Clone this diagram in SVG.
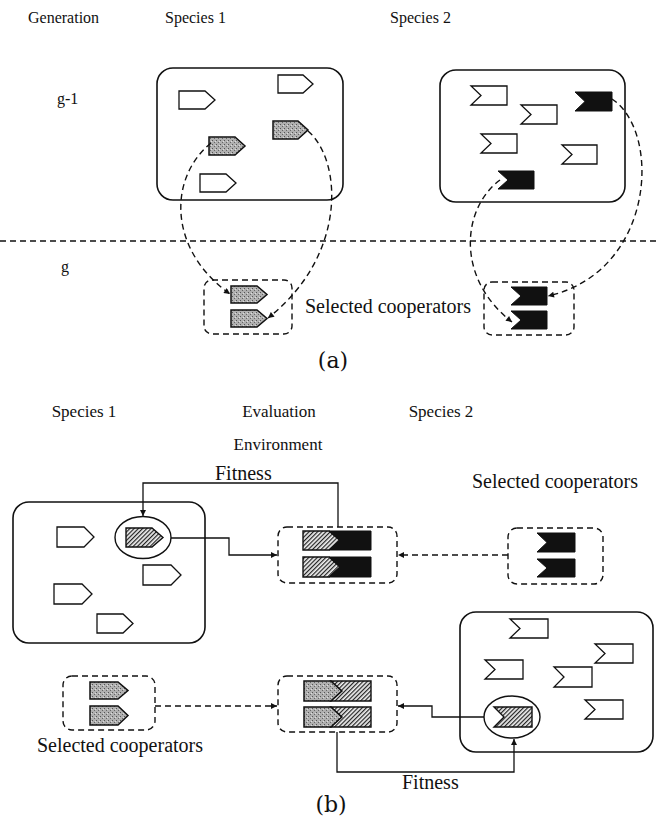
<svg xmlns="http://www.w3.org/2000/svg" width="656" height="825" viewBox="0 0 656 825">
<style>
text{font-family:"Liberation Serif","Times New Roman",serif;fill:#111}
.lbl{font-size:16px}
.hd{font-size:17px}
.big{font-size:20px}
.cap{font-size:22px;font-family:"DejaVu Serif","Liberation Serif",serif}
.box{fill:#fff;stroke:#111;stroke-width:1.6}
.dbox{fill:#fff;stroke:#111;stroke-width:1.4;stroke-dasharray:6 4}
.w{fill:#fff;stroke:#111;stroke-width:1.3}
.g{fill:url(#stip);stroke:#111;stroke-width:1.5}
.h{fill:url(#hatch);stroke:#111;stroke-width:1.4}
.k{fill:#111;stroke:#111;stroke-width:1}
.dash{fill:none;stroke:#111;stroke-width:1.4;stroke-dasharray:6 4}
.sol{fill:none;stroke:#111;stroke-width:1.3}
</style>
<defs>
<pattern id="stip" patternUnits="userSpaceOnUse" width="4" height="4">
<rect width="4" height="4" fill="#b0b0b0"/>
<rect x="0" y="0" width="1" height="1" fill="#555"/>
<rect x="2" y="2" width="1" height="1" fill="#666"/>
<rect x="3" y="1" width="1" height="1" fill="#ddd"/>
</pattern>
<pattern id="hatch" patternUnits="userSpaceOnUse" width="3" height="3" patternTransform="rotate(45)">
<rect width="3" height="3" fill="#eee"/>
<line x1="0.6" y1="0" x2="0.6" y2="3" stroke="#222" stroke-width="1.2"/>
</pattern>
<marker id="ah" viewBox="0 0 10 10" refX="10" refY="5" markerWidth="7" markerHeight="6" markerUnits="userSpaceOnUse" orient="auto">
<path d="M0,0 L10,5 L0,10 Z" fill="#111"/>
</marker>
</defs>

<!-- Part (a) labels -->
<g id="labels-a">
<text class="lbl" x="28" y="23">Generation</text>
<text class="lbl" x="165" y="23">Species 1</text>
<text class="lbl" x="390" y="23">Species 2</text>
<text class="lbl" x="57" y="104">g-1</text>
<text class="lbl" x="61" y="272">g</text>
<text class="big" x="305" y="313">Selected cooperators</text>
<text class="cap" x="333" y="368" text-anchor="middle">(a)</text>
</g>

<g id="a-species1">
<rect class="box" x="157" y="68" width="186" height="132" rx="16"/>
<polygon class="w" points="179,91 205,91 215,100 205,109 179,109"/>
<polygon class="w" points="278,75 303,75 313,84 303,93 278,93"/>
<polygon class="g" points="209,137 235,137 245,146 235,155 209,155"/>
<polygon class="g" points="273,121 298,121 308,130 298,139 273,139"/>
<polygon class="w" points="200,174 226,174 236,183 226,192 200,192"/>
</g>

<g id="a-species2">
<rect class="box" x="440" y="70" width="185" height="132" rx="16"/>
<polygon class="w" points="471,86 507,86 507,105 471,105 481,95.5"/>
<polygon class="w" points="521,105 557,105 557,124 521,124 531,114.5"/>
<polygon class="k" points="575,92 612,92 612,111 575,111 585,101.5"/>
<polygon class="w" points="481,134 517,134 517,153 481,153 491,143.5"/>
<polygon class="w" points="562,145 597,145 597,164 562,164 572,154.5"/>
<polygon class="k" points="498,171 534,171 534,189 498,189 508,180"/>
</g>

<g id="a-selected1">
<rect class="dbox" x="204" y="280" width="88" height="54" rx="8"/>
<polygon class="g" points="231,286 257,286 267,294.5 257,303 231,303"/>
<polygon class="g" points="231,310 257,310 267,318.5 257,327 231,327"/>
</g>

<g id="a-selected2">
<rect class="dbox" x="484" y="282" width="90" height="53" rx="8"/>
<polygon class="k" points="511,287 547,287 547,305 511,305 521,296"/>
<polygon class="k" points="511,311 547,311 547,329 511,329 521,320"/>
</g>

<g id="connectors-a">
<line class="dash" x1="0" y1="241" x2="656" y2="241"/>
<path class="dash" d="M211,143 C168,178 168,250 230,294" marker-end="url(#ah)"/>
<path class="dash" d="M308,131 C342,160 348,255 268,318" marker-end="url(#ah)"/>
<path class="dash" d="M500,180 C462,208 455,278 512,322" marker-end="url(#ah)"/>
<path class="dash" d="M612,99 C662,132 655,272 548,296" marker-end="url(#ah)"/>
</g>

<!-- Part (b) labels -->
<g id="labels-b">
<text class="hd" x="84" y="417" text-anchor="middle">Species 1</text>
<text class="hd" x="279" y="417" text-anchor="middle">Evaluation</text>
<text class="hd" x="278" y="450" text-anchor="middle">Environment</text>
<text class="hd" x="441" y="417" text-anchor="middle">Species 2</text>
<text class="big" x="215" y="480">Fitness</text>
<text class="big" x="472" y="488">Selected cooperators</text>
<text class="big" x="37" y="752">Selected cooperators</text>
<text class="big" x="402" y="789">Fitness</text>
<text class="cap" x="331" y="812" text-anchor="middle">(b)</text>
</g>

<g id="b-species1">
<rect class="box" x="13" y="502" width="192" height="141" rx="16"/>
<polygon class="w" points="57,527 84,527 94,537 84,547 57,547"/>
<polygon class="w" points="143,565 171,565 181,575 171,585 143,585"/>
<polygon class="w" points="54,584 82,584 92,594 82,604 54,604"/>
<polygon class="w" points="97,614 123,614 133,623.5 123,633 97,633"/>
<ellipse cx="143" cy="537.5" rx="28" ry="21" fill="#fff" stroke="#111" stroke-width="1.4"/>
<polygon class="h" points="126,528 152,528 163,537.5 152,547 126,547"/>
</g>

<g id="b-eval1">
<rect class="dbox" x="278" y="527" width="119" height="56" rx="9"/>
<polygon class="h" points="303,531 329,531 340,540.5 329,550 303,550"/>
<polygon class="k" points="329,531 371,531 371,550 329,550 340,540.5"/>
<polygon class="h" points="303,557 329,557 340,567 329,577 303,577"/>
<polygon class="k" points="329,557 371,557 371,577 329,577 340,567"/>
</g>

<g id="b-selected2">
<rect class="dbox" x="508" y="528" width="95" height="56" rx="9"/>
<polygon class="k" points="537,533 575,533 575,552 537,552 547,542.5"/>
<polygon class="k" points="537,559 575,559 575,577 537,577 547,568"/>
</g>

<g id="b-species2">
<rect class="box" x="460" y="612" width="193" height="140" rx="16"/>
<polygon class="w" points="510,619 548,619 548,638 510,638 520,628.5"/>
<polygon class="w" points="595,644 633,644 633,663 595,663 605,653.5"/>
<polygon class="w" points="485,660 523,660 523,679 485,679 495,669.5"/>
<polygon class="w" points="554,667 592,667 592,687 554,687 564,677"/>
<polygon class="w" points="585,700 623,700 623,719 585,719 595,709.5"/>
<ellipse cx="512" cy="717" rx="28" ry="21" fill="#fff" stroke="#111" stroke-width="1.4"/>
<polygon class="h" points="494,707 532,707 532,727 494,727 504,717"/>
</g>

<g id="b-selected1">
<rect class="dbox" x="63" y="676" width="92" height="54" rx="9"/>
<polygon class="g" points="90,682 118,682 128,690.5 118,699 90,699"/>
<polygon class="g" points="90,706 118,706 128,715.5 118,725 90,725"/>
</g>

<g id="b-eval2">
<rect class="dbox" x="278" y="676" width="119" height="56" rx="9"/>
<polygon class="g" points="304,681 331,681 342,691 331,701 304,701"/>
<polygon class="h" points="331,681 371,681 371,701 331,701 342,691"/>
<polygon class="g" points="304,707 331,707 342,717 331,727 304,727"/>
<polygon class="h" points="331,707 371,707 371,727 331,727 342,717"/>
</g>

<g id="connectors-b">
<path class="sol" d="M338,527 V483 H143 V516" marker-end="url(#ah)"/>
<path class="sol" d="M171,538 H229 V555 H277" marker-end="url(#ah)"/>
<path class="dash" d="M508,555 H398" marker-end="url(#ah)"/>
<path class="dash" d="M155,706 H277" marker-end="url(#ah)"/>
<path class="sol" d="M484,717 H432 V706 H398" marker-end="url(#ah)"/>
<path class="sol" d="M337,732 V772 H514 V739" marker-end="url(#ah)"/>
</g>
</svg>
